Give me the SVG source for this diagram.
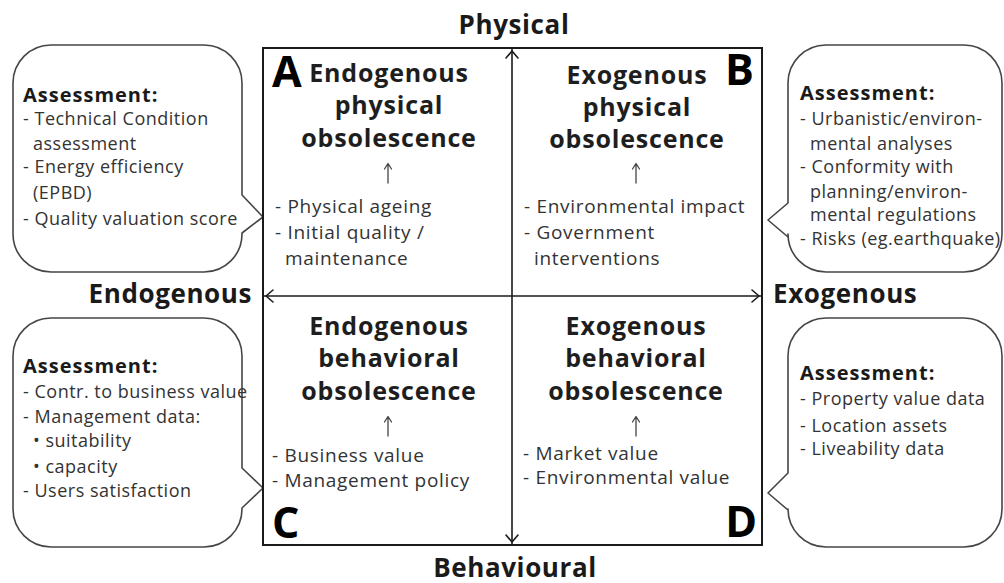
<svg xmlns="http://www.w3.org/2000/svg" width="1004" height="583" viewBox="0 0 1004 583">
<style>
.bg{fill:#ffffff}
.callout{fill:#ffffff;stroke:#454545;stroke-width:1.6;stroke-linejoin:round}
.frame{fill:none;stroke:#1a1a1a;stroke-width:2}
.axis{fill:none;stroke:#1a1a1a;stroke-width:1.6}
.head{fill:none;stroke:#1a1a1a;stroke-width:1.6;stroke-linecap:round;stroke-linejoin:round}
.small{fill:none;stroke:#444;stroke-width:1.3;stroke-linecap:round;stroke-linejoin:round}
.ah{font-family:"Open Sans","DejaVu Sans",sans-serif;font-weight:bold;font-size:20px;fill:#1a1a1a;letter-spacing:1px}
.ct{font-family:"Open Sans","DejaVu Sans",sans-serif;font-size:18px;fill:#333;letter-spacing:0.5px}
.qt{font-family:"Open Sans","DejaVu Sans",sans-serif;font-weight:bold;font-size:25px;fill:#1e1e1e;text-anchor:middle;letter-spacing:0.8px}
.qb{font-family:"Open Sans","DejaVu Sans",sans-serif;font-size:19px;fill:#333;letter-spacing:0.7px}
.big{font-family:"Open Sans","DejaVu Sans",sans-serif;font-weight:bold;font-size:43px;fill:#000}
.axl{font-family:"Open Sans","DejaVu Sans",sans-serif;font-weight:bold;font-size:26px;fill:#1a1a1a;letter-spacing:0.6px}
</style>
<rect class="bg" x="0" y="0" width="1004" height="583"/>

<g id="callout-A">
<path class="callout" d="M51,45 H204 A38,38 0 0 1 242,83 V195 L263,217 L242,233 V234 A38,38 0 0 1 204,272 H51 A38,38 0 0 1 13,234 V83 A38,38 0 0 1 51,45 Z"/>
<text class="ah" x="23" y="102">Assessment:</text>
<text class="ct" x="23" y="125">- Technical  Condition</text>
<text class="ct" x="33" y="150">assessment</text>
<text class="ct" x="23" y="173">- Energy efficiency</text>
<text class="ct" x="33" y="199">(EPBD)</text>
<text class="ct" x="23" y="225">- Quality valuation score</text>
</g>

<g id="callout-B">
<path class="callout" d="M826,45 H964 A38,38 0 0 1 1002,83 V234 A38,38 0 0 1 964,272 H826 A38,38 0 0 1 788,234 V237 L768,220 L788,203 V83 A38,38 0 0 1 826,45 Z"/>
<text class="ah" x="800" y="100">Assessment:</text>
<text class="ct" x="800" y="125">- Urbanistic/environ-</text>
<text class="ct" x="810" y="150">mental analyses</text>
<text class="ct" x="800" y="173">- Conformity with</text>
<text class="ct" x="810" y="198">planning/environ-</text>
<text class="ct" x="810" y="221">mental regulations</text>
<text class="ct" x="800" y="245">- Risks (eg.earthquake)</text>
</g>

<g id="callout-C">
<path class="callout" d="M51,318 H204 A38,38 0 0 1 242,356 V468 L263,488 L242,508 V509 A38,38 0 0 1 204,547 H51 A38,38 0 0 1 13,509 V356 A38,38 0 0 1 51,318 Z"/>
<text class="ah" x="23" y="373">Assessment:</text>
<text class="ct" x="23" y="398">- Contr. to business  value</text>
<text class="ct" x="23" y="423">- Management data:</text>
<text class="ct" x="33" y="447">• suitability</text>
<text class="ct" x="33" y="473">• capacity</text>
<text class="ct" x="23" y="497">- Users satisfaction</text>
</g>

<g id="callout-D">
<path class="callout" d="M826,318 H964 A38,38 0 0 1 1002,356 V509 A38,38 0 0 1 964,547 H826 A38,38 0 0 1 788,509 V510 L768,493 L788,473 V356 A38,38 0 0 1 826,318 Z"/>
<text class="ah" x="800" y="380">Assessment:</text>
<text class="ct" x="800" y="405">- Property value data</text>
<text class="ct" x="800" y="432">- Location  assets</text>
<text class="ct" x="800" y="455">- Liveability data</text>
</g>

<g id="frame">
<rect class="frame" x="263" y="48" width="499" height="497"/>
</g>

<g id="connectors">
<line class="axis" x1="512" y1="49" x2="512" y2="544"/>
<line class="axis" x1="264" y1="296" x2="761" y2="296"/>
<path class="head" d="M506,58 L512,51 L518,58"/>
<path class="head" d="M506,535 L512,542 L518,535"/>
<path class="head" d="M273,290 L266,296 L273,302"/>
<path class="head" d="M752,290 L759,296 L752,302"/>
<path class="small" d="M388,183 V164 M384.5,169 L388,163.5 L391.5,169"/>
<path class="small" d="M636,183 V164 M632.5,169 L636,163.5 L639.5,169"/>
<path class="small" d="M388,436 V417 M384.5,422 L388,416.5 L391.5,422"/>
<path class="small" d="M636,436 V417 M632.5,422 L636,416.5 L639.5,422"/>
</g>

<g id="axis-labels">
<text class="axl" x="514" y="34" text-anchor="middle">Physical</text>
<text class="axl" x="515" y="577" text-anchor="middle">Behavioural</text>
<text class="axl" x="252" y="303" text-anchor="end">Endogenous</text>
<text class="axl" x="773" y="303">Exogenous</text>
</g>

<g id="quadrant-A">
<text class="big" x="272" y="87">A</text>
<text class="qt" x="389" y="82">Endogenous</text>
<text class="qt" x="389" y="114">physical</text>
<text class="qt" x="389" y="147">obsolescence</text>
<text class="qb" x="275" y="213">- Physical ageing</text>
<text class="qb" x="275" y="239">- Initial quality /</text>
<text class="qb" x="285" y="265">maintenance</text>
</g>

<g id="quadrant-B">
<text class="big" x="725" y="85">B</text>
<text class="qt" x="637" y="84">Exogenous</text>
<text class="qt" x="637" y="116">physical</text>
<text class="qt" x="637" y="148">obsolescence</text>
<text class="qb" x="524" y="213">- Environmental impact</text>
<text class="qb" x="524" y="239">- Government</text>
<text class="qb" x="534" y="265">interventions</text>
</g>

<g id="quadrant-C">
<text class="big" x="272" y="538">C</text>
<text class="qt" x="389" y="335">Endogenous</text>
<text class="qt" x="389" y="367">behavioral</text>
<text class="qt" x="389" y="400">obsolescence</text>
<text class="qb" x="272" y="462">- Business  value</text>
<text class="qb" x="272" y="487">- Management policy</text>
</g>

<g id="quadrant-D">
<text class="big" x="757" y="537" text-anchor="end">D</text>
<text class="qt" x="636" y="335">Exogenous</text>
<text class="qt" x="636" y="367">behavioral</text>
<text class="qt" x="636" y="400">obsolescence</text>
<text class="qb" x="523" y="460">- Market value</text>
<text class="qb" x="523" y="484">- Environmental value</text>
</g>
</svg>
